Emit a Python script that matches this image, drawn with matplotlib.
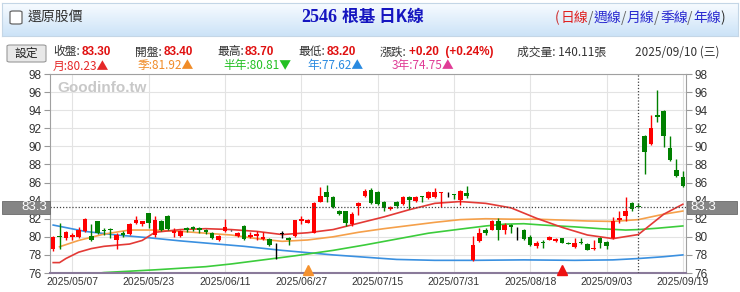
import numpy as np
import pandas as pd
import matplotlib
matplotlib.use('Agg')
import matplotlib.pyplot as plt
from matplotlib.patches import FancyBboxPatch, Rectangle

plt.rcParams['font.family'] = ['Noto Sans CJK TC', 'DejaVu Sans']

# trading days (05/01 labour day and 05/30 dragon boat are closed)
dates = pd.bdate_range('2025-05-02', '2025-09-19', freq='C', holidays=['2025-05-01', '2025-05-30'])

opens = [78.6, 80.1, 79.9, 80.0, 80.0, 80.6, 80.1, 81.7, 80.7, 80.9,
         79.6, 80.4, 80.3, 81.5, 81.4, 82.6, 80.2, 81.8, 82.3, 80.4,
         80.1, 81.0, 81.1, 81.0, 80.8, 80.4, 79.6, 80.6, 80.7, 80.1,
         81.2, 80.0, 80.1, 79.8, 79.8, 78.6, 80.3, 79.9, 80.1, 81.8,
         81.55, 80.45, 83.9, 84.9, 84.4, 82.9, 82.8, 81.4, 83.4, 84.5,
         85.2, 85.0, 83.8, 83.1, 83.9, 83.6, 84.4, 84.0, 84.5, 84.3,
         84.4, 84.8, 84.8, 84.7, 84.1, 84.8, 77.4, 79.5, 80.8, 80.8,
         81.8, 80.7, 81.3, 80.6, 80.8, 80.0, 79.0, 79.4, 79.7, 79.5,
         79.85, 79.35, 78.85, 79.4, 79.2, 78.6, 79.9, 79.4, 79.85, 81.9,
         82.3, 83.7, 83.4, 91.1, 90.25, 93.5, 93.95, 89.8, 87.4, 86.6]
highs = [80.1, 81.5, 80.6, 80.4, 81.1, 82.1, 81.4, 81.8, 81.0, 81.0,
         80.4, 80.6, 81.5, 82.3, 81.8, 82.6, 82.3, 81.9, 82.4, 81.0,
         80.8, 81.1, 81.2, 81.1, 80.9, 80.5, 80.2, 82.0, 80.8, 80.5,
         81.3, 80.5, 80.6, 80.5, 79.9, 79.3, 80.6, 80.0, 81.9, 82.3,
         82.0, 83.8, 85.5, 85.7, 84.5, 83.0, 82.9, 82.7, 83.8, 85.3,
         85.4, 85.1, 84.0, 83.4, 84.0, 84.5, 84.5, 84.5, 84.5, 85.1,
         85.4, 85.0, 85.0, 84.7, 85.2, 85.6, 80.1, 81.0, 81.0, 81.9,
         82.1, 81.5, 81.4, 81.1, 80.9, 80.2, 79.5, 79.7, 80.1, 79.9,
         79.9, 79.4, 79.9, 79.9, 79.3, 79.7, 80.0, 79.5, 82.2, 82.8,
         84.4, 83.8, 83.7, 91.3, 93.5, 96.2, 94.0, 91.2, 88.6, 87.3]
lows = [78.4, 78.6, 79.6, 79.7, 79.9, 80.5, 79.5, 80.3, 80.2, 79.9,
        78.6, 80.0, 80.2, 81.4, 81.2, 81.0, 80.0, 80.6, 80.7, 80.0,
        80.0, 80.5, 80.6, 80.4, 80.3, 79.8, 79.5, 80.5, 80.6, 80.0,
        79.7, 79.9, 79.7, 79.6, 79.0, 77.6, 79.9, 79.1, 80.0, 81.4,
        81.5, 80.4, 83.8, 83.9, 83.2, 82.4, 81.2, 81.2, 82.4, 84.4,
        83.6, 83.5, 82.9, 83.0, 83.2, 83.5, 83.1, 83.9, 83.9, 84.2,
        84.3, 83.3, 84.4, 84.2, 83.5, 84.3, 77.35, 79.4, 80.2, 80.7,
        79.7, 80.3, 80.4, 79.7, 79.7, 79.0, 78.8, 78.8, 79.6, 79.4,
        79.3, 79.2, 78.8, 79.2, 78.5, 78.5, 78.8, 78.6, 79.8, 81.5,
        81.7, 82.85, 83.2, 86.9, 90.2, 92.7, 89.95, 88.4, 86.6, 85.5]
closes = [80.0, 80.0, 80.5, 80.2, 80.7, 82.0, 79.6, 80.4, 80.6, 80.7,
          80.2, 80.2, 81.4, 81.9, 81.7, 81.5, 81.9, 80.8, 80.9, 80.6,
          80.6, 80.8, 80.9, 80.8, 80.5, 79.9, 80.1, 81.1, 80.7, 80.4,
          79.8, 80.2, 80.3, 80.0, 79.1, 78.6, 80.3, 79.6, 81.85, 82.0,
          81.9, 83.7, 84.5, 84.4, 83.3, 82.5, 81.5, 82.5, 83.7, 85.1,
          83.7, 83.6, 83.15, 83.3, 83.4, 84.4, 84.1, 84.4, 84.4, 84.9,
          85.0, 84.9, 84.8, 84.6, 85.1, 84.5, 79.1, 80.4, 80.45, 81.8,
          80.8, 81.3, 81.1, 80.6, 79.8, 79.1, 79.3, 79.3, 80.0, 79.8,
          79.35, 79.25, 79.35, 79.3, 78.55, 78.8, 79.35, 79.0, 81.8, 82.1,
          82.8, 83.1, 83.3, 89.4, 92.0, 93.2, 91.15, 88.5, 86.7, 85.6]

# moving averages, read at sampled days
ma_month_x = [0, 1, 2, 4, 6, 8, 12, 14, 16, 20, 24, 28, 32, 36, 40, 44, 48, 52, 56, 60,
              64, 68, 72, 76, 80, 84, 88, 92, 96, 99]
ma_month = [77.15, 77.15, 77.6, 78.3, 78.7, 78.95, 79.2, 79.6, 80.5, 80.8, 80.9, 80.8, 80.6,
            80.25, 80.45, 80.8, 81.5, 82.2, 83.0, 83.7, 83.9, 83.7, 83.2, 82.05, 81.05,
            80.2, 79.8, 80.25, 82.5, 83.6]
ma_quarter_x = [1, 4, 8, 12, 16, 20, 24, 28, 32, 36, 40, 44, 48, 52, 56, 60, 64, 68, 72, 76,
                80, 84, 88, 92, 96, 99]
ma_quarter = [78.9, 79.6, 80.3, 80.75, 80.75, 80.6, 80.4, 80.2, 79.8, 79.5, 79.65, 80.0, 80.5,
              80.9, 81.25, 81.6, 81.9, 82.0, 81.95, 81.95, 81.85, 81.75, 81.7, 81.9, 82.5, 82.85]
ma_half_x = [6, 8, 16, 24, 28, 33, 38, 44, 49, 54, 59, 64, 68, 71, 74, 77, 82, 86, 90, 92, 95, 99]
ma_half = [75.9, 76.05, 76.35, 76.7, 77.0, 77.45, 77.9, 78.5, 79.1, 79.75, 80.4, 80.85, 81.2,
           81.4, 81.45, 81.3, 81.1, 80.9, 80.75, 80.8, 80.95, 81.2]
ma_year_x = [0, 5, 10, 15, 20, 25, 30, 36, 44, 49, 54, 60, 66, 74, 82, 88, 92, 96, 99]
ma_year = [81.3, 80.6, 80.2, 79.9, 79.55, 79.25, 78.95, 78.5, 78.0, 77.75, 77.5, 77.4, 77.4,
           77.45, 77.4, 77.45, 77.6, 77.8, 78.0]

turn_up_quarter = [40]
turn_up_month = [80]
tick_idx = list(range(3, 100, 12))
cur_idx = 92
cur_price = 83.3

W, H = 740, 292
fig = plt.figure(figsize=(W / 100, H / 100), dpi=100)


def fx(x):
    return x / W


def fy(y):
    return 1 - y / H


# header bar with gradient
hb = fig.add_axes([fx(2), fy(36), fx(736), 33 / H])
grad = np.linspace(0, 1, 64).reshape(-1, 1)
top = np.array([0.97, 0.985, 1.0])
bot = np.array([0.80, 0.89, 0.97])
img = top + (bot - top) * grad[:, :, None]
hb.imshow(img, aspect='auto', extent=[0, 1, 0, 1])
hb.set_xticks([])
hb.set_yticks([])
for s in hb.spines.values():
    s.set_color('#c4d6e6')

fig.patches.append(FancyBboxPatch((fx(10), fy(24)), fx(12), 13 / H, boxstyle='round,pad=0,rounding_size=0.004',
                                  transform=fig.transFigure, fc='white', ec='#666666', lw=0.9))
fig.text(fx(28), fy(17), '還原股價', fontsize=10, color='#333333', va='center')
fig.text(fx(337), fy(17), '2546', fontsize=13, color='#1515c0', weight='bold', va='center', ha='right',
         family='Liberation Serif')
fig.text(fx(342), fy(17), '根基 日K線', fontsize=12, color='#1515c0', weight='bold', va='center')

links = [('(', '#cc2222'), ('日線', '#e02020'), ('/', '#666666'), ('週線', '#2a2ad0'), ('/', '#666666'),
         ('月線', '#2a2ad0'), ('/', '#666666'), ('季線', '#2a2ad0'), ('/', '#666666'), ('年線', '#2a2ad0'),
         (')', '#333333')]
lx = 555
for t, c in links:
    w = 6 if len(t) == 1 else 27
    fig.text(fx(lx), fy(18), t, fontsize=10, color=c, va='center')
    lx += w

# settings button
fig.patches.append(FancyBboxPatch((fx(7), fy(62)), fx(39), 17 / H, boxstyle='round,pad=0,rounding_size=0.004',
                                  transform=fig.transFigure, fc='#e8e8e8', ec='#999999', lw=0.8))
fig.text(fx(26.5), fy(53), '設定', fontsize=8.5, color='#222222', va='center', ha='center')

row1 = [(53, '收盤:', 82, '83.30'), (135, '開盤:', 164, '83.40'), (217, '最高:', 245, '83.70'),
        (298, '最低:', 327, '83.20'), (380, '漲跌:', 409, '+0.20  (+0.24%)')]
for x0, lab, x1, val in row1:
    fig.text(fx(x0), fy(52), lab, fontsize=8.5, color='#333333', va='center')
    fig.text(fx(x1), fy(52), val, fontsize=8.5, color='#e01010', weight='bold', va='center',
             family='Liberation Sans')
fig.text(fx(517), fy(52), '成交量: 140.11張', fontsize=8.5, color='#333333', va='center')
fig.text(fx(635), fy(52), '2025/09/10 (三)', fontsize=8.5, color='#333333', va='center')

row2 = [(53, '月:80.23▲', '#e52828'), (138, '季:81.92▲', '#f08c28'), (223, '半年:80.81▼', '#22c022'),
        (307, '年:77.62▲', '#2a8ae0'), (392, '3年:74.75▲', '#e03c96')]
for x0, t, c in row2:
    fig.text(fx(x0), fy(66), t, fontsize=8.5, color=c, va='center')

# main chart
ax = fig.add_axes([fx(50), fy(273), fx(636), 199 / H])
idx = np.arange(len(closes))
o = np.array(opens)
c = np.array(closes)
colors = ['#ff0000' if cc > oo else ('#008000' if cc < oo else '#000000') for oo, cc in zip(o, c)]
ax.vlines(idx, lows, highs, colors=colors, lw=1, zorder=3)
heights = np.maximum(np.abs(c - o), 0.07)
ax.bar(idx, heights, bottom=np.minimum(o, c), width=0.72, color=colors, lw=0, zorder=4)

ax.plot(ma_year_x, ma_year, color='#3a90e0', lw=1.2, zorder=2)
ax.plot(ma_half_x, ma_half, color='#3ccc3c', lw=1.2, zorder=2)
ax.plot(ma_quarter_x, ma_quarter, color='#f5a04a', lw=1.2, zorder=2)
ax.plot(ma_month_x, ma_month, color='#e33a36', lw=1.2, zorder=2)

ax.axhline(cur_price, color='#444444', ls=(0, (1, 1.5)), lw=0.9, zorder=5)
ax.axvline(cur_idx, color='#444444', ls=(0, (1, 1.5)), lw=0.9, zorder=5)

ax.plot(turn_up_quarter, [76.35] * len(turn_up_quarter), marker='^', color='#f5922e', ms=7, ls='none',
        clip_on=False, zorder=6)
ax.plot(turn_up_month, [76.35] * len(turn_up_month), marker='^', color='#ee1111', ms=7, ls='none',
        clip_on=False, zorder=6)

ax.text(0.012, 0.965, 'Goodinfo.tw', transform=ax.transAxes, fontsize=11, color='#c8c8c8',
        weight='bold', va='top', family='Liberation Sans')

ax.set_xlim(-0.5, len(closes) - 0.5)
ax.set_ylim(76, 98)
ax.set_yticks(range(76, 99, 2))
ax.set_xticks(tick_idx)
ax.set_xticklabels([dates[i].strftime('%Y/%m/%d') for i in tick_idx])
ax.grid(color='#e3e3e3', lw=0.8, zorder=0)
ax.set_axisbelow(True)
ax.tick_params(axis='y', labelright=True, right=True, length=4, color='#999999', labelsize=8.5,
               labelcolor='#333333', pad=2)
ax.tick_params(axis='x', length=0, labelsize=7.5, labelcolor='#333333', pad=3)
for lab in ax.get_xticklabels() + ax.get_yticklabels():
    lab.set_family('Liberation Sans')
for s in ax.spines.values():
    s.set_color('#a0a0a0')
ax.spines['bottom'].set_color('#8a7a9a')
ax.spines['bottom'].set_linewidth(1.5)

# current price boxes
fig.patches.append(Rectangle((fx(2), fy(214)), fx(48), 13 / H, transform=fig.transFigure, fc='#858585',
                             ec='#6a6a6a', lw=0.6, zorder=10))
fig.text(fx(47), fy(207.5), f'{cur_price}', fontsize=9.5, color='white', ha='right', va='center', zorder=11,
         family='Liberation Sans')
fig.patches.append(Rectangle((fx(687), fy(214)), fx(50), 13 / H, transform=fig.transFigure, fc='#858585',
                             ec='#6a6a6a', lw=0.6, zorder=10))
fig.text(fx(690), fy(207.5), f'{cur_price}', fontsize=9.5, color='white', ha='left', va='center', zorder=11,
         family='Liberation Sans')

plt.savefig('out.png', dpi=100)
